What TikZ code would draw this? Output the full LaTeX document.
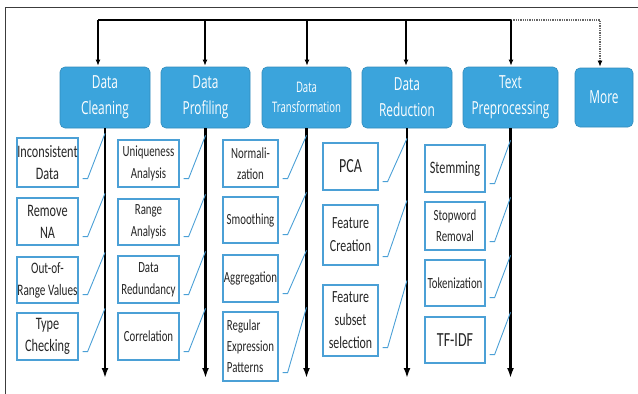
\documentclass[tikz,border=0pt]{standalone}
\usepackage{fontspec}
\usepackage{tikz}
\usetikzlibrary{arrows.meta}
\usetikzlibrary{positioning}
\newfontfamily\hdrfont[FakeStretch=0.66]{Open Sans}
\newfontfamily\boxfont[FakeStretch=0.7]{Carlito}
\definecolor{hdrblue}{RGB}{59,164,220}
\definecolor{boxblue}{RGB}{75,160,214}
\definecolor{framegray}{RGB}{60,60,60}

\begin{document}
\begin{tikzpicture}[x=1pt,y=-1pt,
  hdr/.style={draw=hdrblue!85!black,line width=0.6pt,fill=hdrblue,rounded corners=5pt,text=white,align=center,inner sep=0pt,font=\hdrfont\fontsize{18}{26}\selectfont},
  item/.style={draw=boxblue,line width=1.2pt,fill=white,text=black!85,align=center,inner sep=0pt},
  link/.style={draw=boxblue,line width=0.9pt},
  bus/.style={black,line width=1.5pt},
  feed/.style={black,line width=1.3pt,shorten >=1pt,-{Latex[length=6pt,width=5pt]}},
  spine/.style={black,line width=2.3pt,-{Latex[length=10pt,width=7pt]}},
  dotline/.style={black!60,line width=1.3pt,densely dotted}]
\useasboundingbox (0,0) rectangle (638,394);
\draw [framegray,line width=0.8pt] (5,394) -- (5,7) -- (638,7);

\node [hdr,minimum width=90,minimum height=61] (clean) at (105,97.5) {Data\\Cleaning};
\node [hdr,minimum width=89,minimum height=61] (profile) at (205.5,97.5) {Data\\Profiling};
\node [hdr,minimum width=89,minimum height=61,font=\hdrfont\fontsize{14.5}{20}\selectfont] (transform) at (306.5,97.5) {Data\\Transformation};
\node [hdr,minimum width=90,minimum height=61] (reduce) at (407,97.5) {Data\\Reduction};
\node [hdr,minimum width=95,minimum height=61] (textpre) at (510.5,97.5) {Text\\Preprocessing};
\node [hdr,minimum width=58,minimum height=59] (more) at (604,97.5) {More};

\coordinate (b1) at (98,20);
\coordinate (b2) at (205,20);
\coordinate (b3) at (307,20);
\coordinate (b4) at (406,20);
\coordinate (b5) at (511,20);
\coordinate (b6) at (600,20);
\coordinate (floor) at (0,378);
\draw [bus] (b1) -- (b5);
\draw [dotline] (b5) -- (b6) -- ([yshift=6pt]b6 |- more.north);
\draw [feed] (b6 |- more.north) ++(0,-7) -- (b6 |- more.north);
\draw [feed] (b1) -- (b1 |- clean.north);
\draw [feed] (b2) -- (b2 |- profile.north);
\draw [feed] (b3) -- (b3 |- transform.north);
\draw [feed] (b4) -- (b4 |- reduce.north);
\draw [feed] (b5) -- (b5 |- textpre.north);

\draw [spine] (clean.south) -- (clean.south |- floor);
\draw [spine] (profile.south) -- (profile.south |- floor);
\draw [spine] (transform.south) -- (transform.south |- floor);
\draw [spine] (reduce.south) -- (reduce.south |- floor);
\draw [spine] (textpre.south) -- (textpre.south |- floor);

\node [item,minimum width=61,minimum height=49,font=\boxfont\fontsize{17.5}{22}\selectfont] (cl1) at (47.5,162.5) {Inconsistent\\Data};
\node [item,minimum width=61,minimum height=47,font=\boxfont\fontsize{17.5}{22}\selectfont] (cl2) at (47.5,221.5) {Remove\\NA};
\node [item,minimum width=61,minimum height=46,font=\boxfont\fontsize{16}{22}\selectfont] (cl3) at (47.5,280) {Out-of-\\Range Values};
\node [item,minimum width=61,minimum height=47,font=\boxfont\fontsize{17.5}{22}\selectfont] (cl4) at (47.5,336.5) {Type\\Checking};

\node [item,minimum width=61,minimum height=47,font=\boxfont\fontsize{15.5}{22}\selectfont] (pr1) at (148.5,163.5) {Uniqueness\\Analysis};
\node [item,minimum width=61,minimum height=46,font=\boxfont\fontsize{15.5}{22}\selectfont] (pr2) at (148.5,222) {Range\\Analysis};
\node [item,minimum width=61,minimum height=47,font=\boxfont\fontsize{15.5}{22}\selectfont] (pr3) at (148.5,279.5) {Data\\Redundancy};
\node [item,minimum width=61,minimum height=47,font=\boxfont\fontsize{15.5}{22}\selectfont] (pr4) at (148.5,336.5) {Correlation};

\node [item,minimum width=55,minimum height=47,font=\boxfont\fontsize{15.5}{21}\selectfont] (tr1) at (250.5,163.5) {Normali-\\zation};
\node [item,minimum width=55,minimum height=46,font=\boxfont\fontsize{15.5}{21}\selectfont] (tr2) at (250.5,220) {Smoothing};
\node [item,minimum width=55,minimum height=47,font=\boxfont\fontsize{15.5}{21}\selectfont] (tr3) at (250.5,278.5) {Aggregation};
\node [item,minimum width=55,minimum height=69,align=left,font=\boxfont\fontsize{15.5}{21}\selectfont] (tr4) at (250.5,346.5) {Regular\\Expression\\Patterns};

\node [item,minimum width=55,minimum height=47,font=\boxfont\fontsize{20}{23}\selectfont] (rd1) at (350.5,166.5) {PCA};
\node [item,minimum width=55,minimum height=60,font=\boxfont\fontsize{17}{23}\selectfont] (rd2) at (350.5,235) {Feature\\Creation};
\node [item,minimum width=55,minimum height=71,font=\boxfont\fontsize{17}{23}\selectfont] (rd3) at (350.5,320.5) {Feature\\subset\\selection};

\node [item,minimum width=60,minimum height=47,font=\boxfont\fontsize{17.5}{22}\selectfont] (tp1) at (455,168.5) {Stemming};
\node [item,minimum width=60,minimum height=48,font=\boxfont\fontsize{15.5}{21}\selectfont] (tp2) at (455,226) {Stopword\\Removal};
\node [item,minimum width=60,minimum height=46,font=\boxfont\fontsize{15.5}{21}\selectfont] (tp3) at (455,283) {Tokenization};
\node [item,minimum width=60,minimum height=46,font=\boxfont\fontsize{20}{22}\selectfont] (tp4) at (455,340) {TF-IDF};

\draw [link] ([xshift=4pt,yshift=9pt]cl1.south east) -- ++(5,0) -- ([yshift=4pt]cl1.north -| clean.south);
\draw [link] ([xshift=4pt,yshift=9pt]cl2.south east) -- ++(5,0) -- ([yshift=4pt]cl2.north -| clean.south);
\draw [link] ([xshift=4pt,yshift=9pt]cl3.south east) -- ++(5,0) -- ([yshift=4pt]cl3.north -| clean.south);
\draw [link] ([xshift=4pt,yshift=9pt]cl4.south east) -- ++(5,0) -- ([yshift=4pt]cl4.north -| clean.south);
\draw [link] ([xshift=4pt,yshift=9pt]pr1.south east) -- ++(5,0) -- ([yshift=4pt]pr1.north -| profile.south);
\draw [link] ([xshift=4pt,yshift=9pt]pr2.south east) -- ++(5,0) -- ([yshift=4pt]pr2.north -| profile.south);
\draw [link] ([xshift=4pt,yshift=9pt]pr3.south east) -- ++(5,0) -- ([yshift=4pt]pr3.north -| profile.south);
\draw [link] ([xshift=4pt,yshift=9pt]pr4.south east) -- ++(5,0) -- ([yshift=4pt]pr4.north -| profile.south);
\draw [link] ([xshift=4pt,yshift=9pt]tr1.south east) -- ++(5,0) -- ([yshift=4pt]tr1.north -| transform.south);
\draw [link] ([xshift=4pt,yshift=9pt]tr2.south east) -- ++(5,0) -- ([yshift=4pt]tr2.north -| transform.south);
\draw [link] ([xshift=4pt,yshift=9pt]tr3.south east) -- ++(5,0) -- ([yshift=4pt]tr3.north -| transform.south);
\draw [link] ([xshift=4pt,yshift=9pt]tr4.south east) -- ++(5,0) -- ([yshift=4pt]tr4.north -| transform.south);
\draw [link] ([xshift=4pt,yshift=9pt]rd1.south east) -- ++(5,0) -- ([yshift=4pt]rd1.north -| reduce.south);
\draw [link] ([xshift=4pt,yshift=9pt]rd2.south east) -- ++(5,0) -- ([yshift=4pt]rd2.north -| reduce.south);
\draw [link] ([xshift=4pt,yshift=9pt]rd3.south east) -- ++(5,0) -- ([yshift=4pt]rd3.north -| reduce.south);
\draw [link] ([xshift=4pt,yshift=9pt]tp1.south east) -- ++(5,0) -- ([yshift=4pt]tp1.north -| textpre.south);
\draw [link] ([xshift=4pt,yshift=9pt]tp2.south east) -- ++(5,0) -- ([yshift=4pt]tp2.north -| textpre.south);
\draw [link] ([xshift=4pt,yshift=9pt]tp3.south east) -- ++(5,0) -- ([yshift=4pt]tp3.north -| textpre.south);
\draw [link] ([xshift=4pt,yshift=9pt]tp4.south east) -- ++(5,0) -- ([yshift=4pt]tp4.north -| textpre.south);
\end{tikzpicture}
\end{document}
